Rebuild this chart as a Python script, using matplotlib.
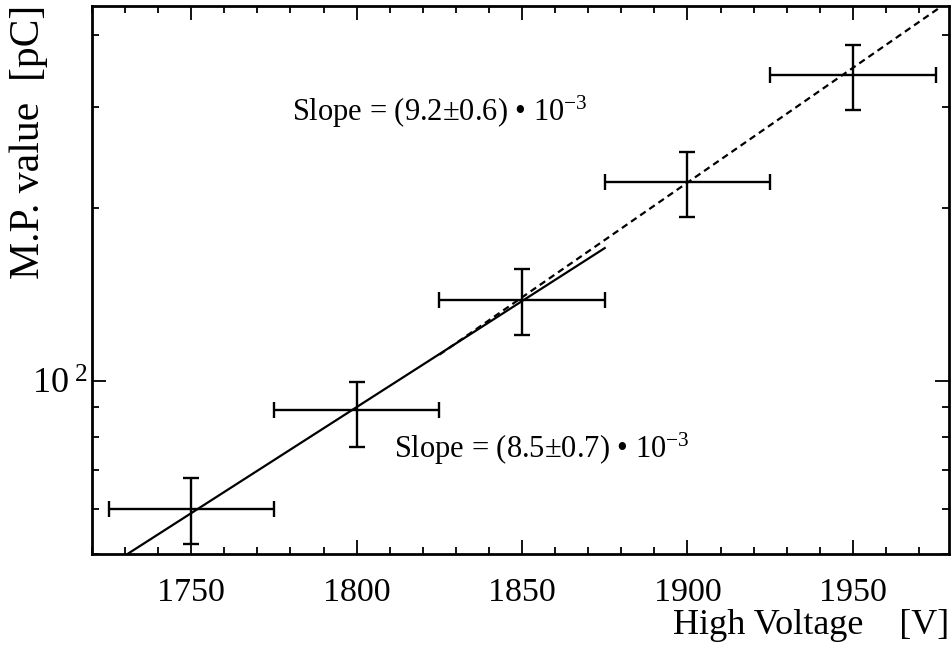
import numpy as np
import matplotlib
matplotlib.use("Agg")
import matplotlib.pyplot as plt
from matplotlib.ticker import FixedLocator, NullFormatter, MultipleLocator

plt.rcParams['font.family'] = ['Liberation Serif', 'DejaVu Serif']
plt.rcParams['mathtext.fontset'] = 'custom'
plt.rcParams['mathtext.rm'] = 'Liberation Serif'
plt.rcParams['mathtext.it'] = 'Liberation Serif'

hv = [1750, 1800, 1850, 1900, 1950]
hv_err = [25, 25, 25, 25, 25]
mp = [60.0, 89.1, 138.2, 222.5, 341.2]
mp_err_lo = [7.9, 12.3, 18.0, 29.1, 44.6]
mp_err_hi = [7.9, 10.5, 18.3, 28.3, 43.4]

# exponential fits: slope, reference voltage, value at reference, range
fit_low = dict(slope=8.5e-3, v0=1800, a0=90.1, vmin=1730, vmax=1875)
fit_high = dict(slope=9.2e-3, v0=1850, a0=139.9, vmin=1825, vmax=1980)

fig = plt.figure(figsize=(9.52, 6.58), dpi=100)
ax = fig.add_axes([0.0966, 0.158, 0.9, 0.833])

ax.errorbar(hv, mp, xerr=hv_err, yerr=[mp_err_lo, mp_err_hi],
            fmt='none', ecolor='black', elinewidth=1.7, capsize=6, capthick=1.7)

for fit, ls in [(fit_low, '-'), (fit_high, (0, (3, 2)))]:
    v = np.linspace(fit['vmin'], fit['vmax'], 200)
    ax.plot(v, fit['a0'] * np.exp(fit['slope'] * (v - fit['v0'])),
            color='black', lw=1.6, ls=ls)

ax.set_yscale('log')
ax.set_xlim(1720, 1979)
ax.set_ylim(50, 450)

ax.xaxis.set_major_locator(MultipleLocator(50))
ax.xaxis.set_minor_locator(MultipleLocator(10))
ax.yaxis.set_major_locator(FixedLocator([100]))
ax.yaxis.set_minor_locator(FixedLocator([50, 60, 70, 80, 90, 200, 300, 400]))
ax.yaxis.set_minor_formatter(NullFormatter())
ax.set_yticklabels([r'10$^{\ 2}$'])

ax.tick_params(which='both', direction='in', top=True, right=True, width=1.3)
ax.tick_params(which='major', length=10)
ax.tick_params(which='minor', length=5)
ax.tick_params(axis='x', which='major', labelsize=24.5, pad=17)
ax.tick_params(axis='y', which='major', labelsize=26, pad=3)
for s in ax.spines.values():
    s.set_linewidth(2)

ax.text(1780.5, 284, 'Slope = (9.2\u00b10.6) \u2022 10$^{-3}$', fontsize=22, va='baseline')
ax.text(1811.2, 73.5, 'Slope = (8.5\u00b10.7) \u2022 10$^{-3}$', fontsize=22, va='baseline')

fig.text(0.997, 1 - 625 / 658, 'High Voltage    [V]', fontsize=26, ha='right', va='center')
fig.text(0.03, 0.993, 'M.P. value  [pC]', fontsize=30, rotation=90, ha='center', va='top')

fig.savefig('out.png', dpi=100)
